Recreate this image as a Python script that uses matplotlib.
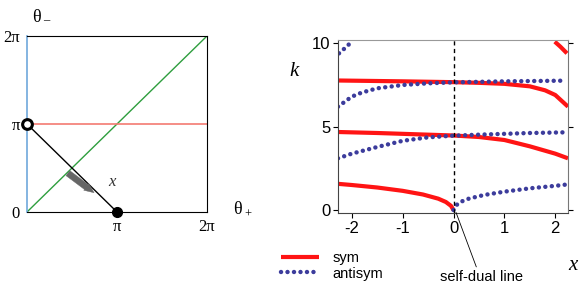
import numpy as np
import matplotlib
matplotlib.use("Agg")
import matplotlib.pyplot as plt

plt.rcParams["axes.unicode_minus"] = False

# --- data: right panel, k versus x ---
sym1_x = [-2.27, -2.0, -1.5, -1.0, -0.6, -0.3, -0.15, -0.05, 0.0]
sym1_k = [1.57, 1.5, 1.35, 1.15, 0.93, 0.68, 0.48, 0.25, 0.0]
sym2_x = [-2.27, -1.5, -1.0, -0.5, 0.0, 0.5, 1.0, 1.5, 2.0, 2.25]
sym2_k = [4.68, 4.62, 4.57, 4.52, 4.47, 4.38, 4.2, 3.82, 3.38, 3.1]
sym3_x = [-2.27, -1.0, 0.0, 0.5, 1.0, 1.5, 1.8, 2.0, 2.25]
sym3_k = [7.77, 7.72, 7.67, 7.63, 7.57, 7.42, 7.18, 6.9, 6.2]
sym4_x = [1.99, 2.1, 2.23]
sym4_k = [10.1, 9.8, 9.4]

anti1_x = [0.0, 0.05, 0.15, 0.3, 0.6, 1.0, 1.5, 2.0, 2.2]
anti1_k = [0.0, 0.28, 0.5, 0.68, 0.9, 1.1, 1.3, 1.45, 1.52]
anti2_x = [-2.27, -2.0, -1.5, -1.0, -0.5, 0.0, 0.5, 1.0, 1.5, 2.2]
anti2_k = [3.1, 3.38, 3.78, 4.15, 4.36, 4.46, 4.52, 4.57, 4.62, 4.66]
anti3_x = [-2.27, -2.0, -1.8, -1.5, -1.0, -0.5, 0.0, 1.0, 2.2]
anti3_k = [6.2, 6.8, 7.05, 7.3, 7.5, 7.6, 7.66, 7.72, 7.76]
anti4_x = [-2.25, -2.12, -2.0]
anti4_k = [9.4, 9.75, 10.1]

# --- data: left panel (units of pi) ---
pi = np.pi
seg_th_plus = [0, 1]      # black segment from (0, pi) to (pi, 0)
seg_th_minus = [1, 0]
arrow_start = (0.43, 0.46)
arrow_end = (0.77, 0.2)

fig = plt.figure(figsize=(5.81, 2.88), dpi=100)
serif = "Liberation Serif"
sans = "Liberation Sans"

# ---------------- left panel ----------------
ax1 = fig.add_axes([27 / 581, 76 / 288, 180 / 581, 176 / 288])
ax1.set_xlim(0, 2 * pi)
ax1.set_ylim(0, 2 * pi)
ax1.plot([0, 2 * pi], [0, 2 * pi], color="#2e9e3e", lw=1.0)
ax1.plot([0, 2 * pi], [pi, pi], color="#f47a72", lw=1.2)
ax1.plot(np.array(seg_th_plus) * pi, np.array(seg_th_minus) * pi, color="black", lw=1.0)
ax1.plot([pi], [0], "o", color="black", ms=7, clip_on=False, zorder=5)
ax1.plot([0], [pi], "o", mfc="white", mec="black", mew=2.2, ms=7, clip_on=False, zorder=5)
ax1.annotate("", xy=(arrow_end[0] * pi, arrow_end[1] * pi),
             xytext=(arrow_start[0] * pi, arrow_start[1] * pi),
             arrowprops=dict(arrowstyle="simple,head_length=0.7,head_width=0.6,tail_width=0.45",
                             color="#666666", lw=0.3))
ax1.text(0.9 * pi, 0.3 * pi, "x", family=serif, style="italic", fontsize=12,
         color="#333333")
for side in ["top", "right", "bottom"]:
    ax1.spines[side].set_color("black")
ax1.spines["left"].set_color("#6fa8dc")
ax1.spines["left"].set_linewidth(1.2)
ax1.set_xticks([pi, 2 * pi])
ax1.set_xticklabels(["π", "2π"], family=serif, fontsize=12)
ax1.set_yticks([0, pi, 2 * pi])
ax1.set_yticklabels(["0", "π", "2π"], family=serif, fontsize=12)
ax1.tick_params(length=0, pad=5)
ax1.text(0.05, 1.08, "θ", transform=ax1.transAxes, family=serif, fontsize=13, ha="center")
ax1.text(0.105, 1.07, "–", transform=ax1.transAxes, family=serif, fontsize=9, ha="center")
ax1.text(1.17, -0.01, "θ", transform=ax1.transAxes, family=serif, fontsize=13, ha="center")
ax1.text(1.225, -0.03, "+", transform=ax1.transAxes, family=serif, fontsize=9, ha="center")

# ---------------- right panel ----------------
ax2 = fig.add_axes([338 / 581, 75 / 288, 230 / 581, 173 / 288])
red = "#ff1414"
blue = "#3c3c9c"
dots = (0, (0.01, 1.45))
lw_r = 3.0
lw_b = 3.2

ax2.plot(sym1_x, sym1_k, color=red, lw=lw_r, solid_capstyle="butt", label="sym")
for xs, ks in [(sym2_x, sym2_k), (sym3_x, sym3_k), (sym4_x, sym4_k)]:
    ax2.plot(xs, ks, color=red, lw=lw_r, solid_capstyle="butt")
ax2.plot(anti1_x, anti1_k, color=blue, lw=lw_b, ls=dots, dash_capstyle="round",
         label="antisym")
for xs, ks in [(anti2_x, anti2_k), (anti3_x, anti3_k), (anti4_x, anti4_k)]:
    ax2.plot(xs, ks, color=blue, lw=lw_b, ls=dots, dash_capstyle="round")

ax2.axvline(0, color="black", lw=1.0, ls=(0, (3, 2.5)))
ax2.set_xlim(-2.27, 2.25)
ax2.set_ylim(-0.18, 10.2)
ax2.set_xticks([-2, -1, 0, 1, 2])
ax2.set_yticks([0, 5, 10])
ax2.tick_params(direction="out", length=3.5, width=0.8, labelsize=12, pad=2,
                right=True, top=False)
for lab in ax2.get_xticklabels() + ax2.get_yticklabels():
    lab.set_family(sans)
ax2.spines["left"].set_color("#444444")
ax2.spines["bottom"].set_color("#444444")
ax2.spines["right"].set_color("#777777")
ax2.spines["top"].set_color("#999999")

ax2.text(-0.21, 0.79, "k", transform=ax2.transAxes, family=serif, style="italic",
         fontsize=15)
ax2.text(1.0, -0.33, "x", transform=ax2.transAxes, family=serif, style="italic",
         fontsize=15)
ax2.annotate("self-dual line", xy=(0.05, -0.15), xytext=(0.55, -4.0),
             ha="center", va="center", family=sans, fontsize=10.5,
             annotation_clip=False,
             arrowprops=dict(arrowstyle="-", color="black", lw=0.6,
                             shrinkA=0, shrinkB=0, relpos=(0.45, 1.0)))

fig.legend(loc="upper left", bbox_to_anchor=(268 / 581, 1 - 238 / 288),
           frameon=False, handlelength=2.6, handletextpad=0.9, labelspacing=0.1,
           prop={"family": sans, "size": 10.5})

fig.savefig("out.png", dpi=100)
